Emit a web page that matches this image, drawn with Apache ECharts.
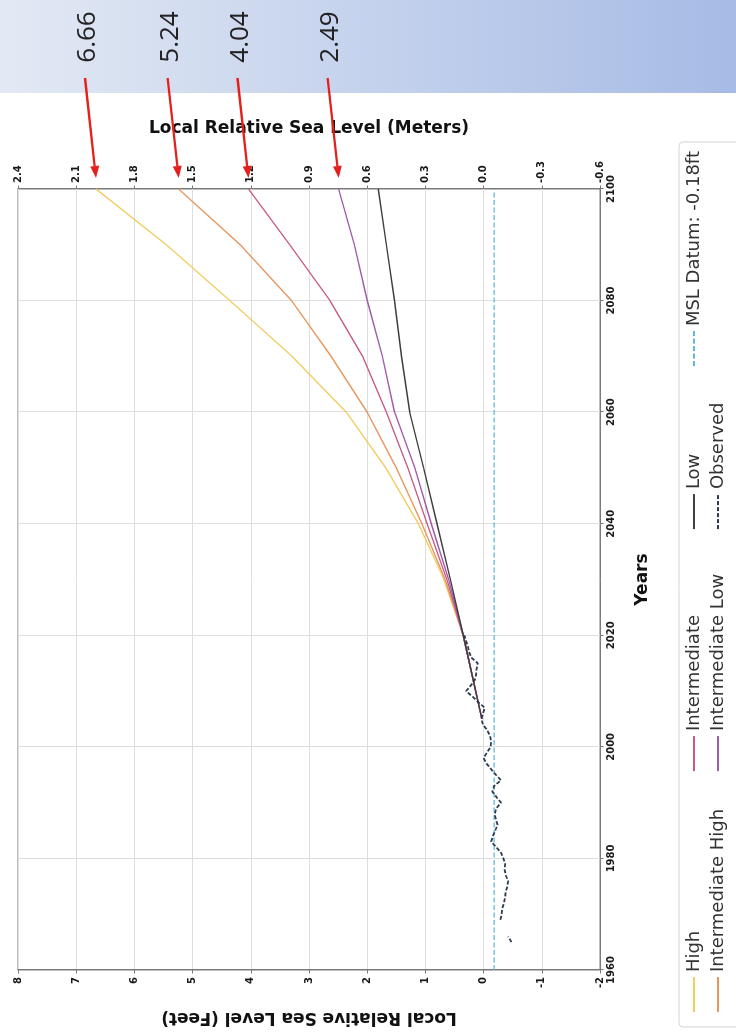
<!DOCTYPE html>
<html>
<head>
<meta charset="utf-8">
<script src="https://cdn.jsdelivr.net/npm/echarts@6/dist/echarts.min.js"></script>
<style>
  html, body { margin: 0; padding: 0; width: 736px; height: 1036px; overflow: hidden; background: #ffffff; }
  /* The chart is laid out landscape and turned a quarter turn so years run upward */
  #chart { position: absolute; left: -150px; top: 150px; width: 1036px; height: 736px;
           transform: rotate(-90deg); transform-origin: 50% 50%; }
</style>
</head>
<body>
<div id="chart"></div>
<script>
// ---- Data (feet, relative to local MSL) ----
const scenarioYears = [2005, 2020, 2030, 2040, 2050, 2060, 2070, 2080, 2090, 2100];
const highFt             = [0.03, 0.35, 0.68, 1.12, 1.68, 2.36, 3.29, 4.36, 5.45, 6.66];
const intermediateHighFt = [0.03, 0.35, 0.66, 1.06, 1.50, 2.00, 2.62, 3.30, 4.18, 5.24];
const intermediateFt     = [0.03, 0.35, 0.63, 0.97, 1.30, 1.67, 2.08, 2.64, 3.33, 4.04];
const intermediateLowFt  = [0.03, 0.35, 0.60, 0.90, 1.18, 1.53, 1.74, 2.00, 2.22, 2.49];
const lowFt              = [0.03, 0.35, 0.57, 0.80, 1.03, 1.27, 1.41, 1.53, 1.67, 1.81];

const observedYears = [1965, 1966, 1967, 1968, 1969, 1970, 1971, 1972, 1973, 1974, 1975, 1976, 1977, 1978,
  1979, 1980, 1981, 1982, 1983, 1984, 1985, 1986, 1987, 1988, 1989, 1990, 1991, 1992, 1993, 1994, 1995,
  1996, 1997, 1998, 1999, 2000, 2001, 2002, 2003, 2004, 2005, 2006, 2007, 2008, 2009, 2010, 2011, 2012,
  2013, 2014, 2015, 2016, 2017, 2018, 2019, 2020];
const observedFt = [-0.48, -0.42, null, null, -0.29, -0.31, -0.32, -0.35, -0.37, -0.38, -0.41, -0.42, -0.38, -0.36,
  -0.37, -0.34, -0.30, -0.22, -0.13, -0.16, -0.20, -0.24, -0.21, -0.19, -0.22, -0.30, -0.22, -0.15, -0.18, -0.30, -0.21,
  -0.13, -0.05, 0.00, -0.06, -0.12, -0.13, -0.11, -0.06, 0.01, 0.04, 0.01, -0.02, 0.09, 0.19, 0.30, 0.22, 0.15,
  0.13, 0.12, 0.10, 0.21, 0.25, 0.27, 0.30, 0.33];

const mslDatumFt = -0.18;
const yearTicks = [1960, 2100];
const feetRange = [-2, 8];
const feetToMeters = 0.3048;

// Scenarios whose 2100 value is called out at the top
const calloutScenarios = ['High', 'Intermediate High', 'Intermediate', 'Intermediate Low'];

// ---- Styling ----
const FONT = 'DejaVu Sans';
const frameColor = '#7a7a7a';
const scenarios = [
  { name: 'High',              values: highFt,             color: '#f1cc60' },
  { name: 'Intermediate High', values: intermediateHighFt, color: '#e8955e' },
  { name: 'Intermediate',      values: intermediateFt,     color: '#c75a86' },
  { name: 'Intermediate Low',  values: intermediateLowFt,  color: '#a259ae' },
  { name: 'Low',               values: lowFt,              color: '#3e3e3e' }
];
const mslName = 'MSL Datum: ' + mslDatumFt.toFixed(2) + 'ft';

const pairs = (xs, vs) => xs.map((x, i) => [x, vs[i] === null ? '-' : vs[i]]);

const series = scenarios.map(s => ({
  name: s.name, type: 'line', data: pairs(scenarioYears, s.values),
  symbol: 'none', silent: true, z: 3,
  lineStyle: { color: s.color, width: 1.4 }, itemStyle: { color: s.color }
}));
series.push({
  name: 'Observed', type: 'line', data: pairs(observedYears, observedFt),
  symbol: 'none', silent: true, z: 4, connectNulls: false,
  lineStyle: { color: '#2d3a52', width: 1.8, type: [4, 2] }, itemStyle: { color: '#2d3a52' }
});
series.push({
  name: mslName, type: 'line', data: [[yearTicks[0], mslDatumFt], [yearTicks[1], mslDatumFt]],
  symbol: 'none', silent: true, z: 2,
  lineStyle: { color: '#5bb8da', width: 1.4, type: [5, 2.5] }, itemStyle: { color: '#5bb8da' }
});

const tickLabel = { fontFamily: FONT, fontWeight: 'bold', fontSize: 10, color: '#1a1a1a' };
const titleText = { fontFamily: FONT, fontWeight: 'bold', fontSize: 17, color: '#111111' };

const legendColumns = [
  ['High', 'Intermediate High'],
  ['Intermediate', 'Intermediate Low'],
  ['Low', 'Observed'],
  [mslName]
];
const legendLeft = [23, 264, 506, 669];

const chart = echarts.init(document.getElementById('chart'), null, { width: 1036, height: 736, renderer: 'canvas' });

chart.setOption({
  animation: false,
  backgroundColor: '#ffffff',
  grid: { left: 66, right: 189, top: 18, bottom: 136, show: true, borderColor: frameColor, borderWidth: 1,
          containLabel: false, outerBoundsMode: 'none' },
  xAxis: {
    type: 'value', min: yearTicks[0], max: yearTicks[1], interval: 20,
    name: 'Years', nameLocation: 'middle', nameGap: 34, nameTextStyle: titleText,
    axisLine: { show: true, onZero: false, lineStyle: { color: frameColor } },
    axisTick: { show: true, length: 3.5, lineStyle: { color: frameColor } },
    axisLabel: Object.assign({ margin: 6, formatter: v => String(v) }, tickLabel),
    splitLine: { show: true, lineStyle: { color: '#dedede', width: 1 } }
  },
  yAxis: [
    {
      type: 'value', min: feetRange[0], max: feetRange[1], interval: 1, position: 'left',
      name: 'Local Relative Sea Level (Feet)', nameLocation: 'middle', nameRotate: 90, nameGap: 39,
      nameTextStyle: titleText,
      axisLine: { show: true, onZero: false, lineStyle: { color: frameColor } },
      axisTick: { show: true, length: 3.5, lineStyle: { color: frameColor } },
      axisLabel: Object.assign({ margin: 7 }, tickLabel),
      splitLine: { show: true, lineStyle: { color: '#dedede', width: 1 } }
    },
    {
      type: 'value', min: feetRange[0], max: feetRange[1], interval: 1, position: 'right',
      name: 'Local Relative Sea Level (Meters)', nameLocation: 'middle', nameRotate: -90, nameGap: 52,
      nameTextStyle: titleText,
      axisLine: { show: true, onZero: false, lineStyle: { color: frameColor } },
      axisTick: { show: true, length: 3.5, lineStyle: { color: frameColor } },
      axisLabel: Object.assign({ margin: 6, formatter: v => (v * feetToMeters).toFixed(1) }, tickLabel),
      splitLine: { show: false }
    }
  ],
  legend: legendColumns.map((names, i) => ({
    data: names, orient: 'vertical', left: legendLeft[i], top: 685, height: 60, padding: 0,
    itemWidth: 35, itemHeight: 14, itemGap: 6, selectedMode: false,
    itemStyle: { opacity: 0 },
    lineStyle: { width: 1.8 },
    textStyle: { fontFamily: FONT, fontSize: 18, color: '#333333' }
  })),
  series: series
});

// ---- Header band, legend frame and 2100 call-outs ----
const graphics = [
  {
    type: 'rect', silent: true, z: 0,
    shape: { x: 943, y: 0, width: 93, height: 736 },
    style: { fill: new echarts.graphic.LinearGradient(0, 0, 0, 1, [
      { offset: 0, color: '#e3e9f4' }, { offset: 1, color: '#a6bbe5' }
    ]) }
  },
  {
    type: 'rect', silent: true, z: 1,
    shape: { x: 9, y: 679, width: 885, height: 70, r: 4 },
    style: { fill: '#ffffff', stroke: '#d4d4d4', lineWidth: 1 }
  }
];

const arrowColor = '#e3201b';
calloutScenarios.forEach(name => {
  const s = scenarios.find(d => d.name === name);
  const v = s.values[s.values.length - 1];
  const p = chart.convertToPixel({ gridIndex: 0 }, [scenarioYears[scenarioYears.length - 1], v]);
  const tip = [p[0] + 11, p[1]];
  const start = [tip[0] + 100, tip[1] - 11];
  const dx = tip[0] - start[0], dy = tip[1] - start[1];
  const len = Math.hypot(dx, dy), ux = dx / len, uy = dy / len;
  const headLen = 12, headHalf = 4.5;
  const base = [tip[0] - ux * headLen, tip[1] - uy * headLen];
  graphics.push({
    type: 'line', silent: true, z: 10,
    shape: { x1: start[0], y1: start[1], x2: base[0], y2: base[1] },
    style: { stroke: arrowColor, lineWidth: 2.4 }
  });
  graphics.push({
    type: 'polygon', silent: true, z: 10,
    shape: { points: [tip, [base[0] - uy * headHalf, base[1] + ux * headHalf], [base[0] + uy * headHalf, base[1] - ux * headHalf]] },
    style: { fill: arrowColor }
  });
  graphics.push({
    type: 'text', silent: true, z: 10, x: tip[0] + 141, y: tip[1] - 8,
    style: { text: v.toFixed(2), fontFamily: 'Open Sans', fontSize: 26, fill: '#222222', align: 'center', verticalAlign: 'middle' }
  });
});

chart.setOption({ graphic: graphics });
</script>
</body>
</html>
